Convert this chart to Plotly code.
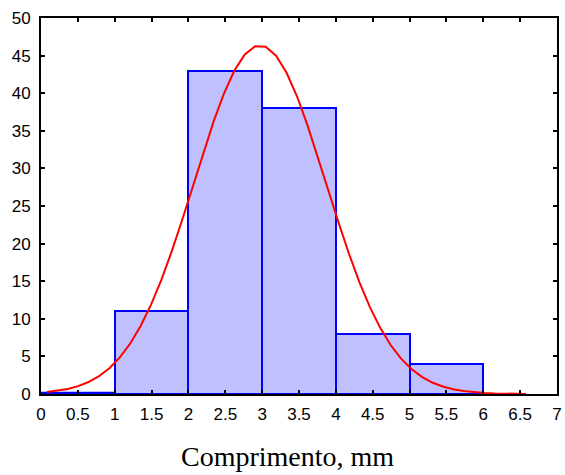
import numpy as np
import plotly.graph_objects as go

# Histogram of lengths (mm): bin edges and observed counts
bin_left = [0, 1, 2, 3, 4, 5]
bin_width = 1.0
counts = [0, 11, 43, 38, 8, 4]

# Fitted normal distribution (mean, standard deviation in mm)
fit_mean = 2.97
fit_sd = 0.895

x_ticks = [0, 0.5, 1, 1.5, 2, 2.5, 3, 3.5, 4, 4.5, 5, 5.5, 6, 6.5, 7]
x_tick_text = ["0", "0.5", "1", "1.5", "2", "2.5", "3", "3.5", "4", "4.5", "5", "5.5", "6", "6.5", "7"]
y_ticks = list(range(0, 55, 5))

centers = [b + bin_width / 2 for b in bin_left]
n_total = sum(counts)

fig = go.Figure()

fig.add_trace(go.Bar(
    x=centers, y=counts, width=bin_width,
    marker=dict(color="rgb(192,192,255)", line=dict(color="rgb(0,0,255)", width=2)),
    hoverinfo="x+y",
))

# Empty bins still get their outline drawn along the baseline
for b, c in zip(bin_left, counts):
    if c == 0:
        fig.add_trace(go.Scatter(
            x=[b, b + bin_width], y=[c + 0.15, c + 0.15], mode="lines",
            line=dict(color="rgb(0,0,255)", width=2), hoverinfo="skip",
        ))

# Expected counts under the fitted normal curve
xc = np.linspace(0.08, 6.58, 47)
yc = n_total * bin_width / (fit_sd * np.sqrt(2 * np.pi)) * np.exp(-0.5 * ((xc - fit_mean) / fit_sd) ** 2)
fig.add_trace(go.Scatter(
    x=xc, y=yc, mode="lines", line=dict(color="rgb(255,0,0)", width=2),
    hoverinfo="skip",
))

axis_common = dict(
    showline=True, linecolor="black", linewidth=2, mirror="ticks",
    ticks="inside", ticklen=4, tickwidth=1.5, tickcolor="black",
    showgrid=False, zeroline=False, automargin=False,
    tickfont=dict(family="Liberation Sans, Arial, sans-serif", size=17, color="black"),
)

fig.update_layout(
    width=565, height=475,
    margin=dict(l=41, r=8, t=18, b=81),
    paper_bgcolor="white", plot_bgcolor="white",
    showlegend=False, bargap=0,
    xaxis=dict(range=[0, 7], tickvals=x_ticks, ticktext=x_tick_text,
               ticklabelstandoff=4, **axis_common),
    yaxis=dict(range=[0, 50], tickvals=y_ticks, ticklabelstandoff=5, **axis_common),
    annotations=[dict(
        text="Comprimento, mm", xref="paper", yref="paper",
        x=0.4775, y=-0.165, xanchor="center", yanchor="middle", showarrow=False,
        font=dict(family="Liberation Serif, Times New Roman, serif", size=28, color="black"),
    )],
)

fig.write_html("out.html")
